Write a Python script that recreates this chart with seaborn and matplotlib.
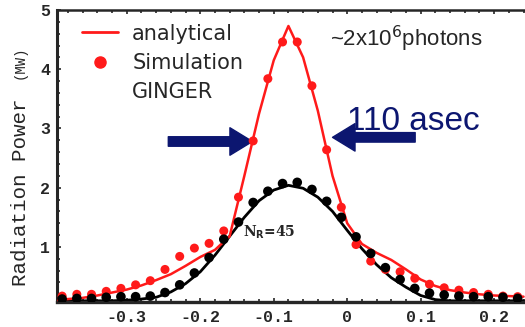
import numpy as np
import pandas as pd
import matplotlib
matplotlib.use("Agg")
import matplotlib.pyplot as plt
from matplotlib.lines import Line2D
from matplotlib.ticker import MultipleLocator, FixedLocator
import seaborn as sns

# Analytical curves, sampled every 0.02 in x
line_x = [-0.40, -0.38, -0.36, -0.34, -0.32, -0.30, -0.28, -0.26, -0.24, -0.22,
          -0.20, -0.18, -0.16, -0.14, -0.12, -0.10, -0.08, -0.06, -0.04, -0.02,
          0.00, 0.02, 0.04, 0.06, 0.08, 0.10, 0.12, 0.14, 0.16, 0.18,
          0.20, 0.22, 0.24]
analytical_red = [0.10, 0.12, 0.14, 0.18, 0.23, 0.28, 0.35, 0.44, 0.54, 0.68,
                  0.83, 0.95, 1.18, 2.20, 3.25, 4.15, 4.73, 4.20, 3.30, 2.20,
                  1.40, 1.05, 0.90, 0.78, 0.62, 0.45, 0.34, 0.27, 0.23, 0.20,
                  0.18, 0.17, 0.16]
analytical_black = [0.09, 0.09, 0.09, 0.09, 0.09, 0.10, 0.12, 0.15, 0.24, 0.38,
                    0.58, 0.86, 1.18, 1.50, 1.78, 1.96, 2.04, 1.99, 1.84, 1.60,
                    1.28, 0.97, 0.70, 0.48, 0.32, 0.18, 0.11, 0.09, 0.09, 0.09,
                    0.09, 0.09, 0.09]

# Simulated points
sim_x = [-0.388, -0.368, -0.348, -0.328, -0.308, -0.288, -0.268, -0.248,
         -0.228, -0.208, -0.188, -0.168, -0.148, -0.128, -0.108, -0.088,
         -0.068, -0.048, -0.028, -0.008, 0.012, 0.032, 0.052, 0.072,
         0.092, 0.112, 0.132, 0.152, 0.172, 0.192, 0.212, 0.232]
sim_red = [0.17, 0.20, 0.20, 0.25, 0.30, 0.36, 0.43, 0.62,
           0.84, 0.98, 1.06, 1.27, 1.84, 2.79, 3.84, 4.46,
           4.46, 3.72, 2.64, 1.67, 1.04, 0.76, 0.62, 0.58,
           0.47, 0.37, 0.31, 0.27, 0.23, 0.20, 0.17, 0.16]
ginger_black = [0.12, 0.13, 0.13, 0.15, 0.16, 0.16, 0.17, 0.23,
                0.36, 0.56, 0.82, 1.13, 1.42, 1.75, 1.94, 2.07,
                2.09, 1.97, 1.77, 1.50, 1.17, 0.89, 0.65, 0.45,
                0.30, 0.22, 0.19, 0.17, 0.16, 0.16, 0.15, 0.13]

x_ticks = [-0.3, -0.2, -0.1, 0.0, 0.1, 0.2]
x_tick_labels = ["-0.3", "-0.2", "-0.1", "0", "0.1", "0.2"]
y_ticks = [1, 2, 3, 4, 5]

RED = "#ff1a1a"
NAVY = "#0c1670"

sns.set_style("ticks")
plt.rcParams["font.family"] = ["DejaVu Sans"]

lines = pd.DataFrame({"x": line_x, "red": analytical_red, "black": analytical_black})
points = pd.DataFrame({"x": sim_x, "red": sim_red, "black": ginger_black})

fig = plt.figure(figsize=(5.25, 3.27), dpi=100)
ax = fig.add_axes([57 / 525, 1 - 302 / 327, 1 - 57 / 525, 292 / 327])

sns.lineplot(data=lines, x="x", y="black", color="black", lw=2.0, ax=ax, zorder=2)
sns.lineplot(data=lines, x="x", y="red", color=RED, lw=1.8, ax=ax, zorder=3)
sns.scatterplot(data=points, x="x", y="red", color=RED, s=42, edgecolor="none", ax=ax, zorder=4)
sns.scatterplot(data=points, x="x", y="black", color="black", s=48, edgecolor="none", ax=ax, zorder=5)

ax.set_xlim(-0.395, 0.242)
ax.set_ylim(0.07, 5.0)
ax.set_xlabel("")
ax.set_ylabel("")

# Spines
ax.spines["right"].set_visible(False)
ax.spines["left"].set_linewidth(2.2)
ax.spines["bottom"].set_linewidth(2.4)
ax.spines["top"].set_linewidth(1.8)

# Ticks
mono = "Liberation Mono"
ax.xaxis.set_major_locator(FixedLocator(x_ticks))
ax.set_xticklabels(x_tick_labels, fontfamily=mono, fontweight="bold", fontsize=12)
ax.xaxis.set_minor_locator(MultipleLocator(0.02))
ax.yaxis.set_major_locator(FixedLocator(y_ticks))
ax.set_yticklabels([str(v) for v in y_ticks], fontfamily=mono, fontweight="bold", fontsize=12)
ax.yaxis.set_minor_locator(MultipleLocator(0.2))
ax.tick_params(axis="x", which="both", direction="in", top=True, bottom=True,
               length=3, width=1.2, pad=6)
ax.tick_params(axis="x", which="minor", length=2)
ax.tick_params(axis="y", which="both", direction="in", left=True, right=False,
               length=3, width=1.2, pad=5)
ax.tick_params(axis="y", which="minor", length=2)

# Axis label
fig.text(20 / 525, 1 - 192 / 327, "Radiation Power", rotation=90, ha="center", va="center",
         fontfamily=mono, fontsize=15)
fig.text(20 / 525, 1 - 62 / 327, "(MW)", rotation=90, ha="center", va="center",
         fontfamily=mono, fontsize=10)

# Legend
handles = [Line2D([], [], color=RED, lw=2),
           Line2D([], [], color=RED, marker="o", ls="", ms=8),
           Line2D([], [], ls="", marker="")]
ax.legend(handles=handles, labels=["analytical", "Simulation", "GINGER"],
          loc="upper left", bbox_to_anchor=(0.025, 1.0), frameon=False,
          fontsize=15, handlelength=1.7, handletextpad=0.7, labelspacing=0.45,
          borderaxespad=0.25)

# Annotations
ax.text(-0.024, 4.52, r"~2x10$^6$photons", fontsize=16, fontfamily="Liberation Sans",
        ha="left", va="center")
ax.text(0.0, 2.97, "110 asec", fontsize=24, fontfamily="Liberation Sans",
        color=NAVY, ha="left", va="baseline")
arrow_style = "simple,head_width=1.1,head_length=0.9,tail_width=0.38"
ax.annotate("", xy=(-0.129, 2.78), xytext=(-0.2435, 2.78),
            arrowprops=dict(arrowstyle=arrow_style, color=NAVY, mutation_scale=18, shrinkA=0, shrinkB=0))
ax.annotate("", xy=(-0.020, 2.85), xytext=(0.0925, 2.85),
            arrowprops=dict(arrowstyle=arrow_style, color=NAVY, mutation_scale=18, shrinkA=0, shrinkB=0))
ax.text(-0.1415, 1.25, r"N$_\mathbf{R}$=45", fontsize=10, fontfamily="DejaVu Serif",
        fontweight="bold", ha="left", va="center")

fig.savefig("out.png", dpi=100)
